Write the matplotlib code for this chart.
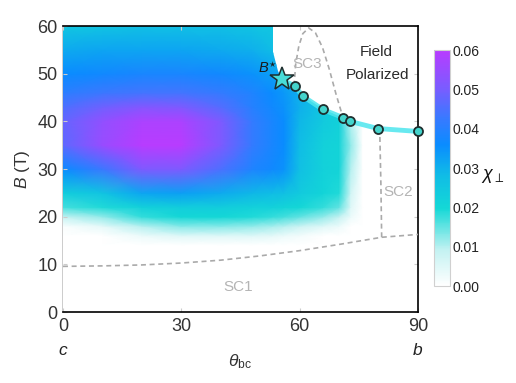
import numpy as np
import matplotlib
matplotlib.use('Agg')
import matplotlib.pyplot as plt
from matplotlib.colors import LinearSegmentedColormap
from matplotlib.patches import Polygon

plt.rcParams['font.family'] = ['Liberation Sans', 'DejaVu Sans']
plt.rcParams['mathtext.fontset'] = 'custom'
plt.rcParams['mathtext.rm'] = 'Liberation Sans'
plt.rcParams['mathtext.it'] = 'Liberation Sans:italic'
plt.rcParams['mathtext.bf'] = 'Liberation Sans:bold'

# ---- data ----
theta_nodes = [0, 10, 20, 30, 40, 48, 53, 56, 60, 66, 70, 73, 76, 90]
B_nodes = [0, 14, 16, 18, 20, 22, 25, 30, 35, 40, 43, 46, 50, 55, 60]
chi_perp = [
    [0, 0, 0, 0, 0, 0, 0, 0, 0, 0, 0, 0, 0, 0],                                         # 0
    [0, 0, 0, 0, 0, 0, 0, 0, 0, 0, 0, 0, 0, 0],                                         # 14
    [0, 0, .003, .005, .005, .005, .004, .003, .002, 0, 0, 0, 0, 0],                    # 16
    [.001, .004, .010, .013, .013, .012, .011, .010, .008, .005, .003, 0, 0, 0],        # 18
    [.009, .012, .018, .020, .020, .019, .018, .017, .015, .012, .009, .003, 0, 0],     # 20
    [.017, .019, .022, .023, .023, .022, .022, .021, .020, .018, .015, .005, 0, 0],     # 22
    [.023, .026, .032, .033, .031, .029, .028, .027, .024, .021, .019, .007, 0, 0],     # 25
    [.036, .043, .051, .051, .045, .039, .037, .035, .027, .022, .021, .010, 0, 0],     # 30
    [.047, .055, .060, .060, .051, .042, .038, .036, .028, .022, .021, .012, 0, 0],     # 35
    [.048, .054, .058, .058, .051, .042, .038, .036, .029, .024, .022, .010, 0, 0],     # 40
    [.045, .049, .052, .051, .046, .040, .037, .035, .030, .025, .021, .008, 0, 0],     # 43
    [.041, .043, .044, .044, .042, .039, .036, .034, .030, .025, 0, 0, 0, 0],           # 46
    [.036, .037, .038, .038, .037, .035, .033, .031, .028, 0, 0, 0, 0, 0],              # 50
    [.031, .032, .032, .032, .031, .030, .028, .026, 0, 0, 0, 0, 0, 0],                 # 55
    [.025, .026, .027, .027, .027, .026, .025, .023, 0, 0, 0, 0, 0, 0],                 # 60
]

# transition line B*(theta): star first, then circles
trans_theta = [55.5, 58.8, 60.8, 65.9, 71.0, 72.8, 79.9, 90.0]
trans_B = [48.8, 47.4, 45.3, 42.5, 40.8, 40.0, 38.5, 37.9]

# upper-left corner of field-polarized region edge (from top of plot down to B*)
fp_edge_theta = [53.2, 53.2, 54.5]
fp_edge_B = [60.0, 54.5, 50.5]

# dashed phase boundaries
sc1_theta = [0, 10, 20, 30, 40, 50, 60, 70, 80.8, 90]
sc1_B = [9.6, 9.7, 9.9, 10.3, 10.9, 11.8, 12.9, 14.2, 15.7, 16.3]
sc2_theta = [80.8, 80.6, 80.3]
sc2_B = [15.7, 27.0, 38.5]
sc3_theta = [58.6, 59.0, 59.8, 60.8, 62.3, 64.0, 65.8, 67.5, 69.2, 71.0]
sc3_B = [47.5, 52.0, 55.8, 58.4, 59.6, 58.6, 55.5, 51.0, 45.8, 40.8]

cbar_ticks = [0.00, 0.01, 0.02, 0.03, 0.04, 0.05, 0.06]
x_ticks = [0, 30, 60, 90]
y_ticks = [0, 10, 20, 30, 40, 50, 60]

# ---- figure ----
fig = plt.figure(figsize=(5.16, 3.83), dpi=100)
ax = fig.add_axes([0.122, 0.185, 0.688, 0.747])
cax = fig.add_axes([0.841, 0.253, 0.031, 0.616])

cmap = LinearSegmentedColormap.from_list('chi', [
    (0.00, '#ffffff'),
    (0.15, '#c4f2f2'),
    (0.33, '#14d8d6'),
    (0.47, '#10bce6'),
    (0.60, '#0a8cff'),
    (0.72, '#3c78ff'),
    (0.84, '#7a5cff'),
    (1.00, '#b83cff'),
])

T, BB = np.meshgrid(theta_nodes, B_nodes)
mesh = ax.pcolormesh(T, BB, np.array(chi_perp), cmap=cmap, vmin=0, vmax=0.06,
                     shading='gouraud', zorder=1, rasterized=True)
clip_pts = ([(0, 0), (0, 60)] + list(zip(fp_edge_theta, fp_edge_B))
            + list(zip(trans_theta, trans_B)) + [(90, 0)])
clip_poly = Polygon(clip_pts, closed=True, transform=ax.transData, facecolor='none', edgecolor='none')
mesh.set_clip_path(clip_poly)

dash_kw = dict(color='#aaaaaa', lw=1.2, dashes=(3, 2.2), zorder=3)
ax.plot(sc1_theta, sc1_B, **dash_kw)
ax.plot(sc2_theta, sc2_B, **dash_kw)
ax.plot(sc3_theta, sc3_B, **dash_kw)

ax.plot(trans_theta, trans_B, color='#4ee6ee', lw=3.5, alpha=0.85, zorder=4,
        solid_capstyle='round', clip_on=False)
ax.plot(trans_theta[1:], trans_B[1:], 'o', ms=6.5, mfc='#44d4cc', mec='#1e2e2e',
        mew=1.3, zorder=6, clip_on=False)
ax.plot(trans_theta[:1], trans_B[:1], '*', ms=18, mfc='#48dcd8', mec='#1e2e2e',
        mew=1.1, zorder=6, clip_on=False)

ax.text(52.0, 51.2, r'$B^{\star}$', fontsize=10.5, color='#1a1a1a', ha='center', va='center', zorder=7)
ax.text(61.8, 52.0, 'SC3', fontsize=11, color='#b4b4b4', ha='center', va='center', zorder=7)
ax.text(84.9, 25.1, 'SC2', fontsize=11, color='#b4b4b4', ha='center', va='center', zorder=7)
ax.text(44.5, 5.3, 'SC1', fontsize=11, color='#b4b4b4', ha='center', va='center', zorder=7)
ax.text(79.3, 54.5, 'Field', fontsize=11, color='#2a2a2a', ha='center', va='center', zorder=7)
ax.text(79.7, 49.8, 'Polarized', fontsize=11, color='#2a2a2a', ha='center', va='center', zorder=7)

ax.set_xlim(0, 90)
ax.set_ylim(0, 60)
ax.set_xticks(x_ticks)
ax.set_yticks(y_ticks)
ax.tick_params(direction='in', length=3, width=0.8, color='#cccccc', labelsize=13,
               labelcolor='#333333', top=True, right=True, pad=4)
for side in ['top', 'right', 'bottom']:
    ax.spines[side].set_color('black')
    ax.spines[side].set_linewidth(1.2)
ax.spines['left'].set_color('#c4c4c4')
ax.spines['left'].set_linewidth(1.2)
ax.spines['left'].set_zorder(0.5)

ax.set_xlabel(r'$\theta_{\mathrm{bc}}$', fontsize=12.5, color='#333333', labelpad=13)
ax.set_ylabel(r'$B$ (T)', fontsize=12.5, color='#333333', labelpad=4)
ax.text(0, -0.133, 'c', transform=ax.transAxes, fontsize=12.5, style='italic',
        color='#222222', ha='center', va='center')
ax.text(1, -0.133, 'b', transform=ax.transAxes, fontsize=12.5, style='italic',
        color='#222222', ha='center', va='center')

cb = fig.colorbar(mesh, cax=cax, ticks=cbar_ticks)
cb.ax.yaxis.set_major_formatter(matplotlib.ticker.FormatStrFormatter('%.2f'))
cb.ax.tick_params(length=0, pad=2, labelsize=10, labelcolor='#222222')
cb.outline.set_edgecolor('#d0d0d0')
cb.outline.set_linewidth(0.8)
fig.text(493 / 516, 1 - 176 / 383, r'$\chi_{\perp}$', fontsize=13, color='#111111',
         ha='center', va='center')

fig.savefig('out.png', dpi=100)
